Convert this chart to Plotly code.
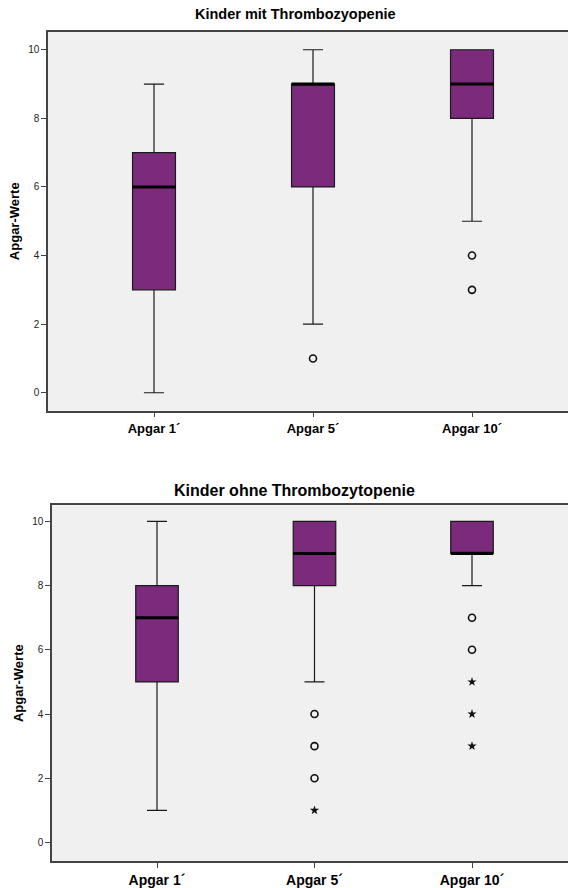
import plotly.graph_objects as go

# Apgar scores at 1, 5 and 10 minutes, summarised per group
categories = ["Apgar 1´", "Apgar 5´", "Apgar 10´"]
positions = [0, 1, 2]

# Children with thrombocytopenia
mit_lower = [0, 2, 5]
mit_q1 = [3, 6, 8]
mit_median = [6, 9, 9]
mit_q3 = [7, 9, 10]
mit_upper = [9, 10, 10]
mit_out_x = [1, 2, 2]
mit_out_y = [1, 4, 3]
mit_ext_x = []
mit_ext_y = []

# Children without thrombocytopenia
ohne_lower = [1, 5, 8]
ohne_q1 = [5, 8, 9]
ohne_median = [7, 9, 9]
ohne_q3 = [8, 10, 10]
ohne_upper = [10, 10, 10]
ohne_out_x = [1, 1, 1, 2, 2]
ohne_out_y = [4, 3, 2, 7, 6]
ohne_ext_x = [1, 2, 2, 2]
ohne_ext_y = [1, 5, 4, 3]

y_ticks = [0, 2, 4, 6, 8, 10]

BOX_FILL = "#7B2A7C"
BOX_W = 0.27
MED_HALF = BOX_W / 2

fig = go.Figure()


def add_panel(xa, ya, lower, q1, med, q3, upper, ox, oy, ex, ey):
    fig.add_trace(go.Box(
        x=positions, lowerfence=lower, q1=q1, median=med, q3=q3,
        upperfence=upper, width=BOX_W, whiskerwidth=0.47,
        fillcolor=BOX_FILL, line=dict(color="#1a1a1a", width=1.2),
        boxpoints=False, xaxis=xa, yaxis=ya, showlegend=False,
        hoverinfo="skip",
    ))
    # thick median bars
    mx, my = [], []
    for p, m in zip(positions, med):
        mx += [p - MED_HALF, p + MED_HALF, None]
        my += [m, m, None]
    fig.add_trace(go.Scatter(
        x=mx, y=my, mode="lines", line=dict(color="black", width=3),
        xaxis=xa, yaxis=ya, showlegend=False, hoverinfo="skip",
    ))
    if ox:
        fig.add_trace(go.Scatter(
            x=ox, y=oy, mode="markers",
            marker=dict(symbol="circle-open", size=7, color="#111111",
                        line=dict(width=1.6, color="#111111")),
            xaxis=xa, yaxis=ya, showlegend=False, hoverinfo="skip",
        ))
    if ex:
        fig.add_trace(go.Scatter(
            x=ex, y=ey, mode="markers",
            marker=dict(symbol="star", size=7, color="#111111",
                        line=dict(width=0)),
            xaxis=xa, yaxis=ya, showlegend=False, hoverinfo="skip",
        ))


add_panel("x", "y", mit_lower, mit_q1, mit_median, mit_q3, mit_upper,
          mit_out_x, mit_out_y, mit_ext_x, mit_ext_y)
add_panel("x2", "y2", ohne_lower, ohne_q1, ohne_median, ohne_q3, ohne_upper,
          ohne_out_x, ohne_out_y, ohne_ext_x, ohne_ext_y)

W, H = 568, 888
FONT = "Liberation Sans, Arial, sans-serif"


def xaxis_style(size):
    return dict(
        tickmode="array", tickvals=positions, ticktext=categories,
        showline=True, linecolor="#444444", linewidth=1.5, mirror=True,
        ticks="outside", ticklen=5, tickcolor="#444444",
        showgrid=False, zeroline=False,
        tickfont=dict(family=FONT, size=size, color="black", weight="bold"),
    )


ycommon = dict(
    tickmode="array", tickvals=y_ticks,
    showline=True, linecolor="#444444", linewidth=1.5,
    ticks="outside", ticklen=5, tickcolor="#444444",
    showgrid=False, zeroline=False,
    tickfont=dict(family=FONT, size=10, color="#222222"),
    title=dict(text="Apgar-Werte", standoff=6,
               font=dict(family=FONT, size=13, color="black", weight="bold")),
)

# horizontal scale: category centres at 154/313/472 px, plot cut at right edge
top_x0 = 48 / W
x_per_px_top = 1 / 159.0
top_range = [-106 * x_per_px_top, 2 + (W - 472) * x_per_px_top]
bot_x0 = 52 / W
x_per_px_bot = 1 / 157.5
bot_range = [-105 * x_per_px_bot, 2 + (W - 472) * x_per_px_bot]

fig.update_layout(
    width=W, height=H,
    margin=dict(l=0, r=0, t=0, b=0),
    paper_bgcolor="white",
    plot_bgcolor="#F0F0F0",
    xaxis=dict(xaxis_style(13), domain=[top_x0, 1], range=top_range, anchor="y"),
    yaxis=dict(ycommon, domain=[1 - 412 / H, 1 - 32 / H], range=[-0.52, 10.52],
               anchor="x"),
    xaxis2=dict(xaxis_style(14), domain=[bot_x0, 1], range=bot_range, anchor="y2"),
    yaxis2=dict(ycommon, domain=[1 - 864 / H, 1 - 507 / H], range=[-0.58, 10.5],
                anchor="x2"),
    annotations=[
        dict(text="Kinder mit Thrombozyopenie", x=295 / W,
             y=1 - 14 / H, xref="paper", yref="paper", showarrow=False,
             font=dict(family=FONT, size=14.5, color="black", weight="bold"),
             xanchor="center", yanchor="middle"),
        dict(text="Kinder ohne Thrombozytopenie", x=294 / W,
             y=1 - 492 / H, xref="paper", yref="paper", showarrow=False,
             font=dict(family=FONT, size=16, color="black", weight="bold"),
             xanchor="center", yanchor="middle"),
    ],
)

fig.write_html("out.html")
